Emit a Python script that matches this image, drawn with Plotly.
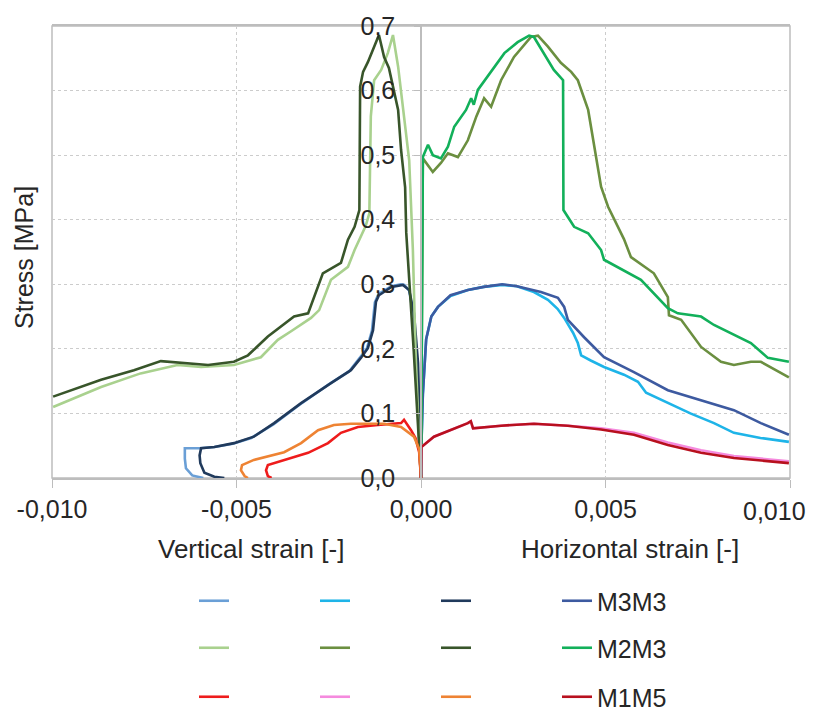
import plotly.graph_objects as go

# ---------------- data (strain [-], stress [MPa]) ----------------
# M3M3 group
m3_lightblue_x = [0, -0.00004, -0.00010, -0.00020, -0.00032, -0.00045, -0.00055, -0.0008, -0.00115, -0.00125, -0.00133, -0.00147, -0.00167, -0.00195, -0.0025, -0.0033, -0.0040, -0.0046, -0.0051, -0.0056, -0.0060, -0.0064, -0.00640, -0.00637, -0.0062, -0.0059]
m3_lightblue_y = [0, 0.06, 0.17, 0.25, 0.29, 0.299, 0.30, 0.297, 0.285, 0.272, 0.228, 0.20, 0.185, 0.165, 0.145, 0.113, 0.083, 0.062, 0.053, 0.048, 0.046, 0.046, 0.03, 0.015, 0.004, 0.0]

m3_cyan_x = [0, 0.00001, 0.00005, 0.00014, 0.00028, 0.00046, 0.0008, 0.00127, 0.0017, 0.0022, 0.0026, 0.00306, 0.00344, 0.0037, 0.00388, 0.00412, 0.00425, 0.00434, 0.0046, 0.00496, 0.0055, 0.00588, 0.0061, 0.00669, 0.0073, 0.00794, 0.00848, 0.0092, 0.00997]
m3_cyan_y = [0, 0.048, 0.13, 0.215, 0.25, 0.265, 0.282, 0.291, 0.296, 0.299, 0.297, 0.288, 0.276, 0.262, 0.248, 0.225, 0.209, 0.19, 0.182, 0.172, 0.16, 0.149, 0.132, 0.116, 0.1, 0.085, 0.07, 0.062, 0.056]

m3_navy_x = [0, -0.00003, -0.00008, -0.00019, -0.00032, -0.00049, -0.0008, -0.00114, -0.00122, -0.0013, -0.00144, -0.00163, -0.0019, -0.00244, -0.00325, -0.00398, -0.00453, -0.00507, -0.0056, -0.00596, -0.0060, -0.00598, -0.00587, -0.0056, -0.00533]
m3_navy_y = [0, 0.06, 0.178, 0.255, 0.291, 0.299, 0.296, 0.283, 0.273, 0.229, 0.201, 0.186, 0.167, 0.147, 0.116, 0.085, 0.064, 0.054, 0.048, 0.046, 0.035, 0.023, 0.008, 0.002, 0.0]

m3m3_x = [0, 0.00001, 0.00005, 0.00014, 0.00028, 0.00046, 0.0008, 0.00127, 0.0017, 0.0022, 0.0026, 0.0029, 0.00325, 0.00371, 0.00388, 0.00398, 0.00442, 0.00496, 0.00577, 0.00669, 0.00759, 0.00848, 0.00921, 0.00997]
m3m3_y = [0, 0.048, 0.13, 0.215, 0.25, 0.265, 0.283, 0.291, 0.296, 0.3, 0.297, 0.293, 0.288, 0.279, 0.265, 0.245, 0.218, 0.187, 0.164, 0.136, 0.121, 0.105, 0.085, 0.067]

# M2M3 group
m2_lightgreen_x = [0, -0.00005, -0.00015, -0.00022, -0.00032, -0.00049, -0.00062, -0.00076, -0.0009, -0.00108, -0.00127, -0.00136, -0.0014, -0.0015, -0.0018, -0.00198, -0.00244, -0.00276, -0.00298, -0.0035, -0.00388, -0.00434, -0.00507, -0.00596, -0.0066, -0.0076, -0.00867, -0.00997]
m2_lightgreen_y = [0, 0.05, 0.2, 0.353, 0.492, 0.57, 0.637, 0.686, 0.658, 0.632, 0.616, 0.56, 0.41, 0.39, 0.353, 0.327, 0.307, 0.26, 0.248, 0.228, 0.214, 0.187, 0.175, 0.172, 0.175, 0.162, 0.141, 0.11]

m2_olive_x = [0, 0.00003, 0.00005, 0.00032, 0.00054, 0.00073, 0.001, 0.00127, 0.0015, 0.00171, 0.0019, 0.00217, 0.00252, 0.00298, 0.00317, 0.00344, 0.00379, 0.00407, 0.00425, 0.00453, 0.00488, 0.00507, 0.00534, 0.0055, 0.00569, 0.00631, 0.00669, 0.00672, 0.00705, 0.00759, 0.00813, 0.00848, 0.00894, 0.00921, 0.00997]
m2_olive_y = [0, 0.3, 0.495, 0.474, 0.488, 0.503, 0.497, 0.523, 0.56, 0.588, 0.575, 0.616, 0.652, 0.683, 0.685, 0.668, 0.643, 0.629, 0.616, 0.57, 0.451, 0.42, 0.389, 0.37, 0.342, 0.317, 0.28, 0.252, 0.245, 0.203, 0.18, 0.175, 0.18, 0.18, 0.156]

m2_darkgreen_x = [0, -0.00005, -0.0002, -0.00040, -0.00043, -0.00054, -0.00062, -0.00087, -0.001, -0.00114, -0.00144, -0.00157, -0.00165, -0.00167, -0.0018, -0.00198, -0.00217, -0.00266, -0.0029, -0.00306, -0.00344, -0.00415, -0.00469, -0.00507, -0.00577, -0.0065, -0.00705, -0.00778, -0.00867, -0.00997]
m2_darkgreen_y = [0, 0.054, 0.2, 0.38, 0.45, 0.508, 0.57, 0.635, 0.652, 0.686, 0.644, 0.629, 0.606, 0.415, 0.389, 0.369, 0.333, 0.317, 0.28, 0.255, 0.25, 0.219, 0.19, 0.18, 0.175, 0.178, 0.181, 0.167, 0.152, 0.126]

m2m3_x = [0, 0.00003, 0.00005, 0.00019, 0.00032, 0.00054, 0.00073, 0.0009, 0.00122, 0.00136, 0.00143, 0.00154, 0.00198, 0.00226, 0.00262, 0.00293, 0.00306, 0.00333, 0.0036, 0.00385, 0.00386, 0.00415, 0.00453, 0.00488, 0.00496, 0.00596, 0.00669, 0.00696, 0.00759, 0.00794, 0.00894, 0.0094, 0.00997]
m2m3_y = [0, 0.3, 0.497, 0.516, 0.5, 0.495, 0.513, 0.544, 0.57, 0.588, 0.578, 0.601, 0.635, 0.658, 0.675, 0.685, 0.683, 0.658, 0.632, 0.616, 0.415, 0.389, 0.379, 0.353, 0.338, 0.307, 0.263, 0.255, 0.25, 0.237, 0.209, 0.186, 0.18]

# M1M5 group
m1_red_x = [0, -0.00005, -0.00015, -0.00027, -0.00046, -0.00054, -0.00117, -0.00171, -0.00217, -0.00252, -0.00306, -0.00371, -0.00415, -0.0042, -0.00415, -0.00405]
m1_red_y = [0, 0.04, 0.062, 0.074, 0.09, 0.085, 0.082, 0.079, 0.07, 0.054, 0.039, 0.028, 0.02, 0.012, 0.003, 0.0]

m1_pink_x = [0, 0.00001, 0.00035, 0.00081, 0.00127, 0.00135, 0.00141, 0.00217, 0.00306, 0.00398, 0.00488, 0.00577, 0.00669, 0.00759, 0.00848, 0.00997]
m1_pink_y = [0, 0.048, 0.064, 0.074, 0.085, 0.088, 0.077, 0.081, 0.084, 0.081, 0.077, 0.07, 0.055, 0.043, 0.034, 0.026]

m1_orange_x = [0, -0.00005, -0.00019, -0.00054, -0.001, -0.0019, -0.00236, -0.00279, -0.00325, -0.00371, -0.00453, -0.00485, -0.00488, -0.00478, -0.00469]
m1_orange_y = [0, 0.045, 0.064, 0.079, 0.084, 0.084, 0.082, 0.074, 0.054, 0.04, 0.028, 0.02, 0.012, 0.003, 0.0]

m1m5_x = [0, 0.00001, 0.00035, 0.00081, 0.00127, 0.00135, 0.00141, 0.00217, 0.00306, 0.00398, 0.00488, 0.00577, 0.00669, 0.00759, 0.00848, 0.00997]
m1m5_y = [0, 0.048, 0.064, 0.074, 0.085, 0.088, 0.077, 0.081, 0.084, 0.081, 0.075, 0.067, 0.051, 0.039, 0.031, 0.023]

x_ticks = [-0.010, -0.005, 0.000, 0.005, 0.010]
x_tick_labels = ["-0,010", "-0,005", "0,000", "0,005", "0,010"]
y_ticks = [0.0, 0.1, 0.2, 0.3, 0.4, 0.5, 0.6, 0.7]
y_tick_labels = ["0,0", "0,1", "0,2", "0,3", "0,4", "0,5", "0,6", "0,7"]
x_label_left = "Vertical strain [-]"
x_label_right = "Horizontal strain [-]"
y_label = "Stress [MPa]"

# ---------------- figure ----------------
FONT = "Liberation Sans, Arial, sans-serif"
TXT = "#262626"

series = [
    # (x, y, color, name, legend)
    (m3_lightblue_x, m3_lightblue_y, "#6a9fd6", "", "legend"),
    (m3_cyan_x, m3_cyan_y, "#1eb4e8", "", "legend"),
    (m3_navy_x, m3_navy_y, "#203a5c", "", "legend"),
    (m3m3_x, m3m3_y, "#3d5aa0", "M3M3", "legend"),
    (m2_lightgreen_x, m2_lightgreen_y, "#a9d18e", "", "legend2"),
    (m2_olive_x, m2_olive_y, "#6b8f40", "", "legend2"),
    (m2_darkgreen_x, m2_darkgreen_y, "#38552a", "", "legend2"),
    (m2m3_x, m2m3_y, "#12b05a", "M2M3", "legend2"),
    (m1_red_x, m1_red_y, "#ee1c1c", "", "legend3"),
    (m1_pink_x, m1_pink_y, "#f58ade", "", "legend3"),
    (m1_orange_x, m1_orange_y, "#ee8333", "", "legend3"),
    (m1m5_x, m1m5_y, "#b8101e", "M1M5", "legend3"),
]

fig = go.Figure()
for x, y, c, n, lg in series:
    fig.add_trace(go.Scatter(x=x, y=y, mode="lines", name=n, legend=lg,
                             line=dict(color=c, width=2.6)))

W, H = 824, 711
ml, mr, mt, mb = 52, 34, 26, 233
pw = W - ml - mr
ph = H - mt - mb

def px_x(p):
    return (p - ml) / pw

def px_y(p):
    return (H - mb - p) / ph

axis_gray = "#bdbdbd"
grid_gray = "#cccccc"

# last x tick label is drawn as an annotation, nudged inwards (as in the reference)
axis_tick_text = x_tick_labels[:-1] + [""]

fig.update_layout(
    width=W, height=H,
    margin=dict(l=ml, r=mr, t=mt, b=mb, pad=0, autoexpand=False),
    paper_bgcolor="white", plot_bgcolor="white",
    separators=", ",
    font=dict(family=FONT, size=25, color=TXT),
    showlegend=True,
    xaxis=dict(range=[-0.010, 0.010], tickvals=x_ticks, ticktext=axis_tick_text,
               automargin=False,
               showgrid=True, gridcolor=grid_gray, griddash="3px,3px", gridwidth=1,
               zeroline=False, showline=True, linecolor=axis_gray, linewidth=1.5,
               mirror=True, ticks="outside", ticklen=8, tickcolor=axis_gray,
               tickfont=dict(family=FONT, size=25, color=TXT)),
    yaxis=dict(range=[0, 0.7], tickvals=y_ticks, ticktext=y_tick_labels,
               anchor="free", position=0.5, automargin=False,
               showgrid=True, gridcolor=grid_gray, griddash="3px,3px", gridwidth=1,
               zeroline=False, showline=True, linecolor=axis_gray, linewidth=1.5,
               ticks="outside", ticklen=6, tickcolor=axis_gray,
               ticklabelstandoff=14,
               tickfont=dict(family=FONT, size=25, color=TXT)),
    shapes=[dict(type="rect", xref="paper", yref="paper", x0=0, x1=1, y0=0, y1=1,
                 line=dict(color=axis_gray, width=1.5), layer="below")],
    annotations=[
        dict(text=x_tick_labels[-1], xref="paper", yref="paper", x=px_x(808), y=px_y(511),
             showarrow=False, xanchor="right", yanchor="middle",
             font=dict(family=FONT, size=25, color=TXT)),
        dict(text=x_label_left, xref="paper", yref="paper", x=px_x(251), y=px_y(549),
             showarrow=False, xanchor="center", yanchor="middle",
             font=dict(family=FONT, size=26, color=TXT)),
        dict(text=x_label_right, xref="paper", yref="paper", x=px_x(630), y=px_y(549),
             showarrow=False, xanchor="center", yanchor="middle",
             font=dict(family=FONT, size=26, color=TXT)),
        dict(text=y_label, xref="paper", yref="paper", x=px_x(24), y=px_y(258),
             showarrow=False, textangle=-90, xanchor="center", yanchor="middle",
             font=dict(family=FONT, size=25, color=TXT)),
    ],
)

leg_common = dict(orientation="h", entrywidth=76, entrywidthmode="pixels",
                  xanchor="left", yanchor="middle", bgcolor="rgba(0,0,0,0)",
                  font=dict(family=FONT, size=25, color=TXT), itemclick=False,
                  itemdoubleclick=False, tracegroupgap=0)
fig.update_layout(
    legend=dict(x=px_x(194), y=px_y(601), **leg_common),
    legend2=dict(x=px_x(194), y=px_y(648), **leg_common),
    legend3=dict(x=px_x(194), y=px_y(697), **leg_common),
)

fig.write_html("out.html", config={"displayModeBar": False},
               post_script="document.body.style.margin='0px';document.body.style.overflow='hidden';")
